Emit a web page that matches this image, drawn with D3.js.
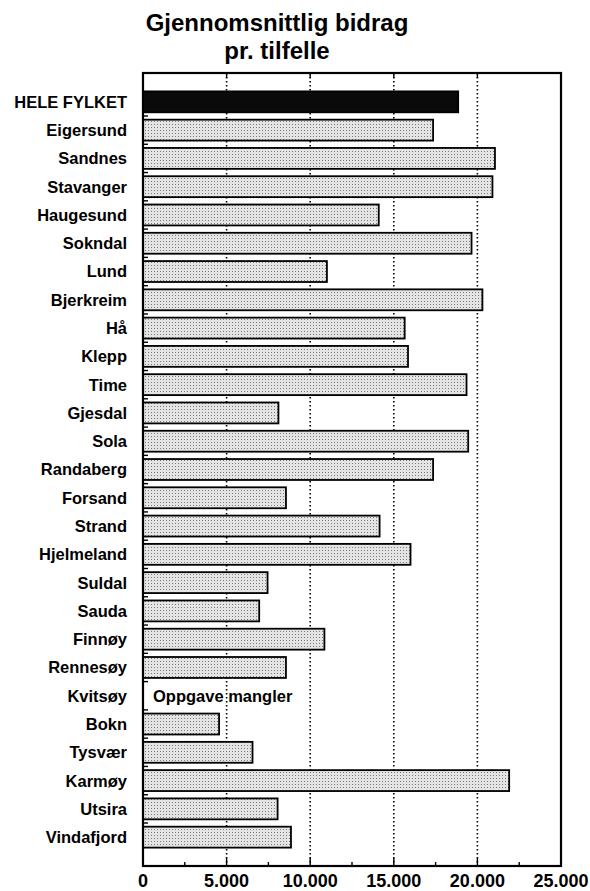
<!DOCTYPE html>
<html>
<head>
<meta charset="utf-8">
<script src="https://cdn.jsdelivr.net/npm/d3@7"></script>
<style>
  body { margin: 0; background: #fff; }
  text { font-family: "Liberation Sans", Arial, sans-serif; fill: #000; }
</style>
</head>
<body>
<script>
// Gjennomsnittlig bidrag pr. tilfelle, kommunene i Rogaland
var categories = ["HELE FYLKET", "Eigersund", "Sandnes", "Stavanger", "Haugesund", "Sokndal",
  "Lund", "Bjerkreim", "Hå", "Klepp", "Time", "Gjesdal", "Sola", "Randaberg", "Forsand",
  "Strand", "Hjelmeland", "Suldal", "Sauda", "Finnøy", "Rennesøy", "Kvitsøy", "Bokn",
  "Tysvær", "Karmøy", "Utsira", "Vindafjord"];

// Kvitsøy mangler verdi (null)
var values = [18850, 17350, 21050, 20900, 14100, 19650,
  11000, 20300, 15650, 15850, 19350, 8100, 19450, 17350, 8550,
  14150, 16000, 7450, 6950, 10850, 8550, null, 4550,
  6550, 21900, 8050, 8850];

var xTicks = [0, 5000, 10000, 15000, 20000, 25000];
var minorTicks = [2500, 7500, 12500, 17500, 22500];
var gridTicks = [5000, 10000, 15000, 20000];

var titleLines = ["Gjennomsnittlig bidrag", "pr. tilfelle"];
var totalLabel = "HELE FYLKET";
var missingText = "Oppgave mangler";

var W = 590, H = 891;
var plotLeft = 143, plotRight = 561, plotTop = 73, plotBottom = 866;

var svg = d3.select("body").append("svg")
  .attr("width", W)
  .attr("height", H);

// stipple-mønster for søylene
var defs = svg.append("defs");
var pat = defs.append("pattern")
  .attr("id", "dots")
  .attr("width", 3).attr("height", 3)
  .attr("patternUnits", "userSpaceOnUse");
pat.append("rect").attr("width", 3).attr("height", 3).attr("fill", "#e4e4e4");
pat.append("rect").attr("x", 1).attr("y", 1).attr("width", 1).attr("height", 1).attr("fill", "#7a7a7a");

var x = d3.scaleLinear().domain([0, 25000]).range([plotLeft, plotRight]);
var y = d3.scaleBand().domain(categories).range([plotTop, plotBottom])
  .paddingInner(0.26).paddingOuter(0.65);

var fmt = d3.formatLocale({ decimal: ",", thousands: ".", grouping: [3], currency: ["", ""] }).format(",");

// tittel
svg.selectAll("text.title")
  .data(titleLines)
  .enter().append("text")
  .attr("class", "title")
  .attr("x", 277)
  .attr("y", function(d, i) { return 31 + i * 28; })
  .attr("text-anchor", "middle")
  .style("font-size", "24px")
  .style("font-weight", "bold")
  .text(function(d) { return d; });

// prikkete rutenett
svg.selectAll("line.grid")
  .data(gridTicks)
  .enter().append("line")
  .attr("class", "grid")
  .attr("x1", function(d) { return x(d); })
  .attr("x2", function(d) { return x(d); })
  .attr("y1", plotTop)
  .attr("y2", plotBottom)
  .attr("stroke", "#000")
  .attr("stroke-width", 1.6)
  .attr("stroke-dasharray", "1.6,2.4");

// akser med små innovervendte merker
var gBottom = svg.append("g").attr("transform", "translate(0," + plotBottom + ")");
gBottom.selectAll("line.major")
  .data(xTicks.slice(1, -1))
  .enter().append("line")
  .attr("class", "major")
  .attr("x1", function(d) { return x(d); })
  .attr("x2", function(d) { return x(d); })
  .attr("y1", 0).attr("y2", -8)
  .attr("stroke", "#000").attr("stroke-width", 1.4);
gBottom.selectAll("line.minor")
  .data(minorTicks)
  .enter().append("line")
  .attr("class", "minor")
  .attr("x1", function(d) { return x(d); })
  .attr("x2", function(d) { return x(d); })
  .attr("y1", 0).attr("y2", -4)
  .attr("stroke", "#000").attr("stroke-width", 1.4);

var gTop = svg.append("g").attr("transform", "translate(0," + plotTop + ")");
gTop.selectAll("line")
  .data(xTicks.slice(1, -1))
  .enter().append("line")
  .attr("x1", function(d) { return x(d); })
  .attr("x2", function(d) { return x(d); })
  .attr("y1", 0).attr("y2", 5)
  .attr("stroke", "#000").attr("stroke-width", 1.4);

// merker mellom radene på venstre akse
svg.selectAll("line.ytick")
  .data(categories.slice(1))
  .enter().append("line")
  .attr("class", "ytick")
  .attr("x1", plotLeft).attr("x2", plotLeft + 5)
  .attr("y1", function(d) { return y(d) - y.step() * y.paddingInner() / 2; })
  .attr("y2", function(d) { return y(d) - y.step() * y.paddingInner() / 2; })
  .attr("stroke", "#000").attr("stroke-width", 1.4);

// søyler
var rows = categories.map(function(c, i) { return { name: c, value: values[i] }; });

svg.selectAll("rect.bar")
  .data(rows.filter(function(d) { return d.value != null; }))
  .enter().append("rect")
  .attr("class", "bar")
  .attr("x", x(0))
  .attr("y", function(d) { return y(d.name); })
  .attr("width", function(d) { return x(d.value) - x(0); })
  .attr("height", y.bandwidth())
  .attr("fill", function(d) { return d.name === totalLabel ? "#0a0a0a" : "url(#dots)"; })
  .attr("stroke", "#000")
  .attr("stroke-width", 1.8);

// manglende verdi
svg.selectAll("text.missing")
  .data(rows.filter(function(d) { return d.value == null; }))
  .enter().append("text")
  .attr("class", "missing")
  .attr("x", plotLeft + 10)
  .attr("y", function(d) { return y(d.name) + y.bandwidth() / 2; })
  .attr("dy", "0.36em")
  .style("font-size", "16.5px")
  .style("font-weight", "bold")
  .text(missingText);

// kategorinavn
svg.selectAll("text.cat")
  .data(categories)
  .enter().append("text")
  .attr("class", "cat")
  .attr("x", 127)
  .attr("y", function(d) { return y(d) + y.bandwidth() / 2; })
  .attr("dy", "0.36em")
  .attr("text-anchor", "end")
  .style("font-size", "16.5px")
  .style("font-weight", "bold")
  .text(function(d) { return d; });

// ramme
svg.append("rect")
  .attr("x", plotLeft).attr("y", plotTop)
  .attr("width", plotRight - plotLeft).attr("height", plotBottom - plotTop)
  .attr("fill", "none")
  .attr("stroke", "#000")
  .attr("stroke-width", 2.2);

// tallverdier på x-aksen
svg.selectAll("text.xlab")
  .data(xTicks)
  .enter().append("text")
  .attr("class", "xlab")
  .attr("x", function(d) { return x(d); })
  .attr("y", 887)
  .attr("text-anchor", "middle")
  .style("font-size", "18px")
  .style("font-weight", "bold")
  .text(function(d) { return fmt(d); });
</script>
</body>
</html>
